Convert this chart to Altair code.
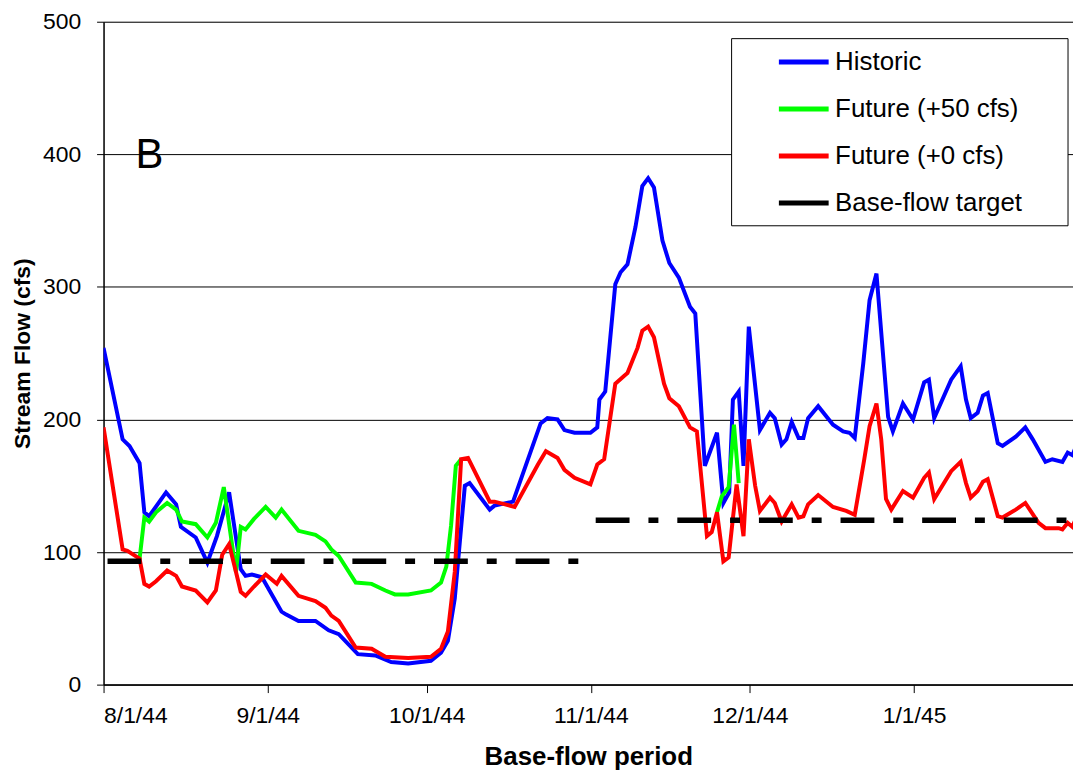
import altair as alt
import pandas as pd

START = pd.Timestamp("1944-08-01")

# Historic (day offset from 8/1/44, cfs)
hist_days = [0, 3.6, 4.9, 6.8, 7.7, 8.6, 11.8, 13.7, 14.6, 17.4, 19.6, 21.4, 23.7, 25.9, 26.8, 28, 29.9,
             33.6, 34.4, 36.8, 40, 42.5, 44.4, 48, 51.3, 54.3, 57.5, 61.8, 63.7, 65, 66.3, 68.2, 69.1,
             72.9, 73.8, 77.3, 82.5, 83.8, 85.7, 87, 88.9, 91.9, 93.2, 93.6, 94.7, 96.6, 97.6, 98.9,
             100.4, 101.7, 102.8, 103.9, 105.5, 106.8, 108.6, 110.7, 111.7, 113.5, 115.8, 117.0, 118.1,
             118.8, 119.9, 120.8, 121.8, 123.9, 125.8, 126.7, 128, 128.9, 129.9, 131.2, 132.1, 133,
             134.9, 137.7, 139.6, 140.8, 141.8, 143.4, 144.6, 145.9, 148.1, 149, 150.9, 152.8, 154.9,
             155.8, 156.8, 160, 161.8, 162.8, 163.7, 165, 166, 166.9, 168.8, 169.7, 172.2, 174, 175.4,
             177.8, 179.1, 181, 182, 182.9, 183.6]
hist_vals = [254, 185, 180, 167, 130, 127, 145, 136, 119, 111, 92, 112, 145, 87, 82, 83, 81,
             55, 53, 48, 48, 41, 38, 23, 22, 17, 16, 18, 24, 33, 65, 150, 152,
             132, 135, 138, 197, 201, 200, 192, 190, 190, 194, 215, 221, 302, 311, 317,
             345, 376, 382, 375, 335, 318, 307, 285, 280, 165, 190, 137, 145,
             215, 221, 165, 270, 192, 205, 201, 181, 185, 198, 186, 186, 201,
             210, 196, 191, 190, 186, 242, 290, 310, 202, 191, 212, 200, 228,
             230, 201, 230, 240, 215, 201, 205, 218, 220, 182, 180, 187, 194, 185,
             168, 170, 168, 175, 173, 180]

# Future (+0 cfs)
f0_days = [0, 3.6, 4.5, 6.8, 7.7, 8.6, 9.9, 12, 13.7, 14.8, 17.4, 19.6, 21.2, 22.4, 23.7, 25, 25.9,
           26.8, 28.4, 30.6, 32.7, 33.6, 36.8, 40, 41.9, 43, 44.4, 47.6, 50.6, 53.2, 57.5, 61.8, 63.7,
           65, 66.3, 67.5, 68.8, 72.9, 73.8, 75.8, 77.6, 82, 83.5, 85.7, 87, 88.9, 91.9, 93.2, 94.5,
           96.6, 98.3, 98.9, 100.8, 101.7, 102.8, 103.9, 105.8, 106.8, 108.6, 110.7, 112, 113.9, 114.8,
           115.8, 117, 118, 119.5, 120.8, 121.8, 123, 123.9, 125.8, 126.7, 128, 129.9, 131.2, 132.1,
           133, 134.9, 137.7, 140.2, 141.8, 143.6, 144.6, 145.9, 146.8, 147.7, 148.7, 150.9, 152.8,
           154.9, 155.8, 156.8, 160, 161.8, 162.8, 163.7, 165, 166, 166.9, 168.8, 169.7, 172.2, 174,
           176.5, 177.8, 180.3, 181, 182, 182.9, 183.6]
f0_vals = [194, 102, 101, 95, 76, 74, 78, 86, 82, 74, 71, 62, 71, 98, 106, 85, 70,
           67, 74, 83, 76, 82, 67, 63, 58, 52, 48, 28, 27, 21, 20, 21, 27,
           40, 85, 170, 171, 138, 138, 136, 134, 166, 176, 171, 162, 156, 151, 166, 170,
           227, 233, 235, 254, 267, 270, 262, 227, 216, 210, 194, 191, 112, 115,
           130, 93, 96, 151, 112, 185, 150, 131, 141, 137, 123, 136, 126, 127,
           136, 143, 134, 131, 128, 170, 195, 212, 185, 140, 132, 146, 141,
           156, 160, 140, 161, 168, 152, 141, 146, 153, 155, 127, 126, 132, 137,
           122, 118, 118, 117, 122, 119, 126]

# Future (+50 cfs): visible where it departs from the +0 cfs run
f50_days_a = [6.8, 7.7, 8.6, 9.9, 12, 13.7, 14.8, 17.4, 19.6, 21.2, 22.7, 25, 25.9, 26.8, 28.4, 30.6,
              32.5, 33.6, 36.8, 40, 41.9, 43, 44.4, 47.6, 50.6, 53.2, 55, 57.5, 61.8, 63.7, 64.7,
              65.6, 66.5, 67.5]
f50_vals_a = [95, 126, 123, 130, 137, 132, 123, 121, 111, 122, 149, 85, 119, 117, 125, 134,
              126, 132, 116, 113, 108, 102, 97, 77, 76, 71, 68, 68, 71, 77, 89,
              120, 165, 170]
f50_days_b = [115.8, 116.7, 118, 119, 119.9]
f50_vals_b = [130, 142, 149, 196, 152]

# Base-flow target
tgt_days_a = [0.75, 90.4]
tgt_vals_a = [93, 93]
tgt_days_b = [92.9, 183.6]
tgt_vals_b = [124, 124]

x_ticks = [(1944, 8), (1944, 9), (1944, 10), (1944, 11), (1944, 12), (1945, 1)]
y_ticks = [0, 100, 200, 300, 400, 500]

SERIES = ["Historic", "Future (+50 cfs)", "Future (+0 cfs)", "Base-flow target"]
COLORS = ["#0000FF", "#00FF00", "#FF0000", "#000000"]
FONT = "Liberation Sans"


def to_iso(d):
    t = START + pd.to_timedelta(d, unit="D")
    return t.strftime("%Y-%m-%dT%H:%M:%SZ")


def frame(days, vals, series, seg):
    return pd.DataFrame({"date": [to_iso(d) for d in days], "value": vals,
                         "series": series, "seg": seg})


hist = frame(hist_days, hist_vals, "Historic", "h")
f0 = frame(f0_days, f0_vals, "Future (+0 cfs)", "r")
f50 = pd.concat([frame(f50_days_a, f50_vals_a, "Future (+50 cfs)", "g1"),
                 frame(f50_days_b, f50_vals_b, "Future (+50 cfs)", "g2")])
tgt = pd.concat([frame(tgt_days_a, tgt_vals_a, "Base-flow target", "t1"),
                 frame(tgt_days_b, tgt_vals_b, "Base-flow target", "t2")])

xscale = alt.Scale(type="utc",
                   domain=[alt.DateTime(year=1944, month=8, date=1, utc=True),
                           alt.DateTime(year=1945, month=1, date=31, utc=True)])
yscale = alt.Scale(domain=[0, 500], nice=False)
cscale = alt.Scale(domain=SERIES, range=COLORS)

x_enc = alt.X("date:T", scale=xscale,
              axis=alt.Axis(values=[alt.DateTime(year=y, month=m, date=1, utc=True) for y, m in x_ticks],
                            format="%-m/%-d/%y", title="Base-flow period", grid=False,
                            labelFontSize=23, titleFontSize=26, titleFontWeight="bold",
                            labelFont=FONT, titleFont=FONT, labelColor="black", titleColor="black",
                            tickSize=8, tickColor="black", domainColor="black", domainWidth=1.5,
                            labelPadding=12, titlePadding=16, labelOverlap=False))
y_enc = alt.Y("value:Q", scale=yscale,
              axis=alt.Axis(values=y_ticks, title="Stream Flow (cfs)", grid=True,
                            gridColor="black", gridWidth=1, gridOpacity=1,
                            labelFontSize=23, titleFontSize=23, titleFontWeight="bold",
                            labelFont=FONT, titleFont=FONT, labelColor="black", titleColor="black",
                            tickSize=7, tickColor="black", domainColor="black", domainWidth=1.5,
                            labelPadding=16, titlePadding=8))
c_enc = alt.Color("series:N", scale=cscale,
                  legend=alt.Legend(orient="none", legendX=676, legendY=13, title=None,
                                    symbolType="stroke", symbolSize=2500, symbolStrokeWidth=5,
                                    labelFontSize=26, labelFont=FONT, labelColor="black",
                                    labelOffset=4, rowPadding=6.2, padding=0,
                                    labelLimit=400))

box = alt.Chart(pd.DataFrame({"a": [0]})).mark_rect(
    fill="white", stroke="black", strokeWidth=1
).encode(x=alt.value(631), x2=alt.value(969), y=alt.value(17), y2=alt.value(205))


def line_layer(df, width=4, dash=None):
    kw = {"strokeWidth": width, "clip": True}
    if dash:
        kw["strokeDash"] = dash
    return alt.Chart(df).mark_line(**kw).encode(
        x=x_enc, y=y_enc, color=c_enc, detail="seg:N")


blue = line_layer(hist)
green = line_layer(f50)
red = line_layer(f0)
target = line_layer(tgt, width=5.5, dash=[34, 19, 10, 19])

label_b = alt.Chart(pd.DataFrame({"a": [0]})).mark_text(
    text="B", fontSize=42, font=FONT, align="left", baseline="alphabetic", color="black"
).encode(x=alt.value(32), y=alt.value(147))

chart = alt.layer(box, blue, green, red, target, label_b).properties(
    width=974, height=666,
    autosize=alt.AutoSizeParams(type="none"),
    padding={"left": 96, "top": 12, "right": 0, "bottom": 85},
).configure_view(stroke=None).configure(background="white")

chart.save("out.html", embed_options={"renderer": "svg", "actions": False})
